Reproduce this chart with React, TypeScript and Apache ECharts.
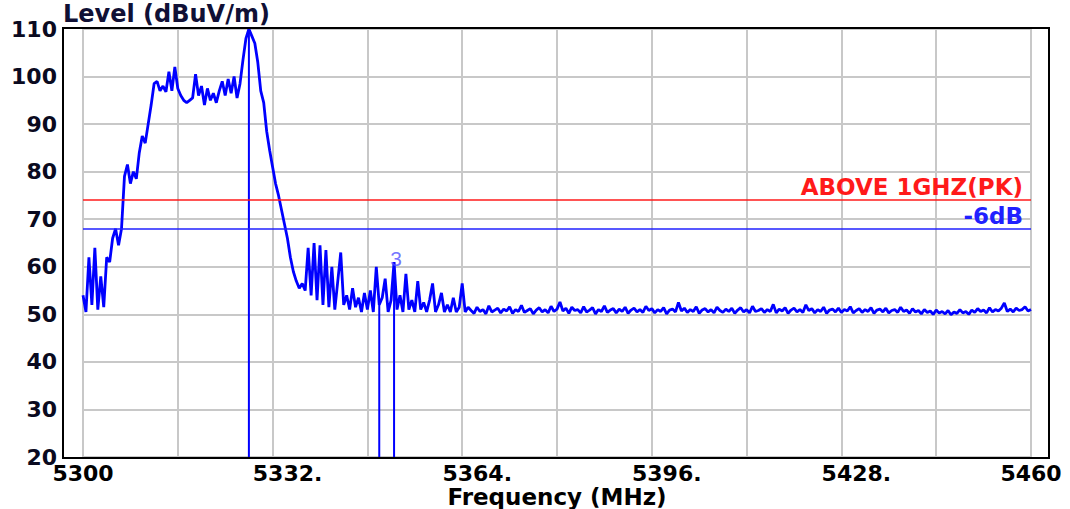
import React, { useEffect, useRef } from "react";
import * as echarts from "echarts";

// Sweep settings (spectrum analyser trace points)
const START_MHZ = 5300;
const STEP_MHZ = 0.5;

// Trace levels in dBuV/m, one per sweep point
const LEVELS: number[] = [
  54, 50.5, 62, 52, 64, 51, 58, 51.5, 62, 61,
  66, 68, 64.5, 68, 79, 81.5, 77.5, 80, 78.5, 84,
  87.5, 86, 90, 94, 98.5, 99, 97, 98, 96.8, 101,
  97, 102, 97.5, 96, 95, 94.5, 95, 95.5, 100.5, 96,
  98, 94, 97.5, 95, 96.5, 94.5, 97, 99, 96, 99.5,
  96.5, 100, 95.5, 98.5, 103.5, 108, 110, 108.5, 107, 103,
  97, 94.5, 88.5, 84.5, 81, 77.5, 75, 72, 69, 66,
  62, 59, 57, 55.5, 56.5, 55, 64, 54, 65, 53,
  64.5, 52, 63.5, 51.5, 60, 51, 57, 63, 52, 54,
  51, 55.5, 51.5, 53.5, 50.5, 54.5, 51, 55, 50.5, 60,
  52, 53.5, 57.5, 50.5, 53, 61, 51, 54, 50.5, 58.5,
  51, 53, 50.5, 57, 51, 52.5, 50.5, 53, 56.5, 50.5,
  52, 54.5, 50.5, 52, 50.5, 53.5, 50.5, 51.5, 56.5, 50.5, 51.5,
  50.8, 50.2, 51.5, 50.6, 51.0, 50.1, 51.8, 50.5, 50.9, 51.3,
  50.3, 51.1, 50.7, 51.6, 50.2, 51.0, 50.6, 51.9, 50.4, 50.8,
  51.2, 50.1, 50.9, 51.4, 50.5, 51.0, 50.3, 51.7, 50.6, 51.1,
  52.6, 50.7, 51.3, 50.2, 51.5, 50.8, 51.0, 50.3, 51.6, 50.5,
  50.9, 51.4, 50.1, 51.0, 50.6, 51.8, 50.4, 50.9, 51.2, 50.3,
  51.1, 50.6, 51.5, 50.2, 50.9, 51.3, 50.5, 51.0, 50.4, 51.7,
  50.8, 51.2, 50.3, 51.0, 50.6, 51.4, 50.1, 50.9, 51.1, 50.5,
  52.5, 50.7, 51.3, 50.4, 51.0, 50.6, 51.6, 50.2, 50.9, 51.2,
  50.5, 51.0, 50.3, 51.5, 50.8, 50.4, 51.1, 50.6, 51.3, 50.2,
  50.9, 51.4, 50.5, 51.0, 50.3, 51.7, 50.6, 50.8, 51.2, 50.4,
  51.0, 50.6, 52.1, 50.3, 51.1, 50.7, 51.4, 50.2, 50.9, 51.3,
  50.5, 51.0, 50.4, 52.0, 50.8, 51.2, 50.3, 51.0, 50.6, 51.5,
  50.2, 50.9, 51.1, 50.5, 51.3, 50.4, 51.0, 50.7, 51.6, 50.3,
  50.8, 51.2, 50.4, 51.0, 50.6, 51.4, 50.2, 50.9, 51.1, 50.5,
  51.3, 50.3, 50.8, 51.0, 50.4, 51.5, 50.6, 50.9, 50.2, 51.2,
  50.5, 50.8, 50.1, 51.0, 50.4, 50.7, 50.0, 50.9, 50.3, 50.6,
  50.1, 50.8, 49.9, 50.5, 50.2, 51.0, 50.3, 50.6, 50.0, 50.9,
  50.4, 51.2, 50.6, 50.9, 50.3, 51.4, 50.5, 51.0, 50.7, 51.3,
  52.4, 50.6, 51.1, 50.5, 51.3, 50.8, 51.0, 51.6, 50.7, 51.0,
];

// Limit lines
const LIMIT_LEVEL = 74;
const LIMIT_LABEL = "ABOVE 1GHZ(PK)";
const MARGIN_LEVEL = 68;
const MARGIN_LABEL = "-6dB";

// Markers (frequency in MHz)
const MARKER_FREQS = [5328, 5350, 5352.5];
const MARKER_LABELS = ["", "", "3"];

// Axis settings
const X_MIN = 5300;
const X_MAX = 5460;
const X_STEP = 16;
const X_LABEL_TICKS = [5300, 5332, 5364, 5396, 5428, 5460];
const X_LABEL_TEXT = ["5300", "5332.", "5364.", "5396.", "5428.", "5460"];
const X_NAME = "Frequency (MHz)";
const Y_MIN = 20;
const Y_MAX = 110;
const Y_STEP = 10;
const Y_NAME = "Level (dBuV/m)";

const FONT = "DejaVu Sans";

export default function App() {
  const ref = useRef<HTMLDivElement>(null);

  useEffect(() => {
    document.body.style.margin = "0";
    if (!ref.current) return;
    const chart = echarts.init(ref.current, null, { renderer: "svg" });

    const trace = LEVELS.map((v, i) => [START_MHZ + i * STEP_MHZ, v]);
    const levelAt = (f: number) => LEVELS[Math.round((f - START_MHZ) / STEP_MHZ)];

    const markerSeries = MARKER_FREQS.map((f) => ({
      type: "line",
      data: [
        [f, levelAt(f)],
        [f, Y_MIN],
      ],
      showSymbol: false,
      lineStyle: { color: "#0000ff", width: 2 },
      silent: true,
      z: 3,
    }));

    const markerLabels = MARKER_FREQS.map((f, i) => ({ f, t: MARKER_LABELS[i] })).filter((m) => m.t);

    const option: any = {
      animation: false,
      backgroundColor: "#ffffff",
      grid: { left: 83, right: 39, top: 29, bottom: 52, outerBoundsMode: "none", containLabel: false },
      xAxis: {
        type: "value",
        min: X_MIN,
        max: X_MAX,
        interval: X_STEP,
        axisLine: { show: false },
        axisTick: { show: false },
        splitLine: { show: true, lineStyle: { color: "#c8c8c8", width: 2 } },
        axisLabel: {
          margin: 6,
          color: "#000",
          fontFamily: FONT,
          fontWeight: "bold",
          fontSize: 22,
          lineHeight: 20,
          formatter: (v: number) => {
            const idx = X_LABEL_TICKS.indexOf(Math.round(v));
            if (idx < 0) return "";
            const s = X_LABEL_TEXT[idx];
            return s.endsWith(".") ? "{p|" + s + "}" : s;
          },
          rich: {
            p: {
              padding: [0, 0, 0, 30],
              color: "#000",
              fontFamily: FONT,
              fontWeight: "bold",
              fontSize: 22,
              lineHeight: 20,
            },
          },
        },
      },
      yAxis: {
        type: "value",
        min: Y_MIN,
        max: Y_MAX,
        interval: Y_STEP,
        axisLine: { show: false },
        axisTick: { show: false },
        splitLine: { show: true, lineStyle: { color: "#c8c8c8", width: 2 } },
        axisLabel: {
          margin: 26,
          color: "#0a0a20",
          fontFamily: FONT,
          fontWeight: "bold",
          fontSize: 22,
        },
        name: Y_NAME,
        nameLocation: "end",
        nameGap: 5,
        nameTextStyle: {
          color: "#101035",
          fontFamily: FONT,
          fontWeight: "bold",
          fontSize: 24,
          align: "left",
          verticalAlign: "bottom",
          padding: [0, 0, -2, -20],
        },
      },
      graphic: [
        {
          type: "rect",
          shape: { x: 63, y: 28, width: 986, height: 430 },
          style: { fill: "none", stroke: "#000", lineWidth: 2 },
          z: 100,
          silent: true,
        },
        {
          type: "text",
          x: 557,
          y: 497,
          silent: true,
          style: {
            text: X_NAME,
            align: "center",
            verticalAlign: "middle",
            fill: "#000",
            fontFamily: FONT,
            fontWeight: "bold",
            fontSize: 23,
            lineHeight: 20,
          },
        },
      ],
      series: [
        {
          type: "line",
          data: trace,
          showSymbol: false,
          lineStyle: { color: "#0000ff", width: 2.8 },
          z: 4,
          markLine: {
            silent: true,
            symbol: "none",
            animation: false,
            data: [
              {
                yAxis: LIMIT_LEVEL,
                lineStyle: { color: "#ff1a1a", width: 1.5, type: "solid" },
                label: {
                  show: true,
                  position: "insideEndTop",
                  formatter: LIMIT_LABEL,
                  color: "#ff1a1a",
                  fontFamily: FONT,
                  fontWeight: "bold",
                  fontSize: 23,
                  distance: [8, 2],
                },
              },
              {
                yAxis: MARGIN_LEVEL,
                lineStyle: { color: "#2020ff", width: 1.5, type: "solid" },
                label: {
                  show: true,
                  position: "insideEndTop",
                  formatter: MARGIN_LABEL,
                  color: "#2020ff",
                  fontFamily: FONT,
                  fontWeight: "bold",
                  fontSize: 23,
                  distance: [8, 1],
                },
              },
            ],
          },
        },
        ...markerSeries,
        {
          type: "scatter",
          data: markerLabels.map((m) => [m.f, levelAt(m.f)]),
          symbolSize: 1,
          itemStyle: { color: "rgba(0,0,0,0)" },
          silent: true,
          label: {
            show: true,
            position: "inside",
            offset: [2, -4],
            formatter: (p: any) => markerLabels[p.dataIndex].t,
            color: "#5050ff",
            fontFamily: "Liberation Sans",
            fontSize: 21,
          },
          z: 6,
        },
      ],
    };

    chart.setOption(option);
    return () => chart.dispose();
  }, []);

  return <div ref={ref} style={{ width: 1070, height: 509 }} />;
}
